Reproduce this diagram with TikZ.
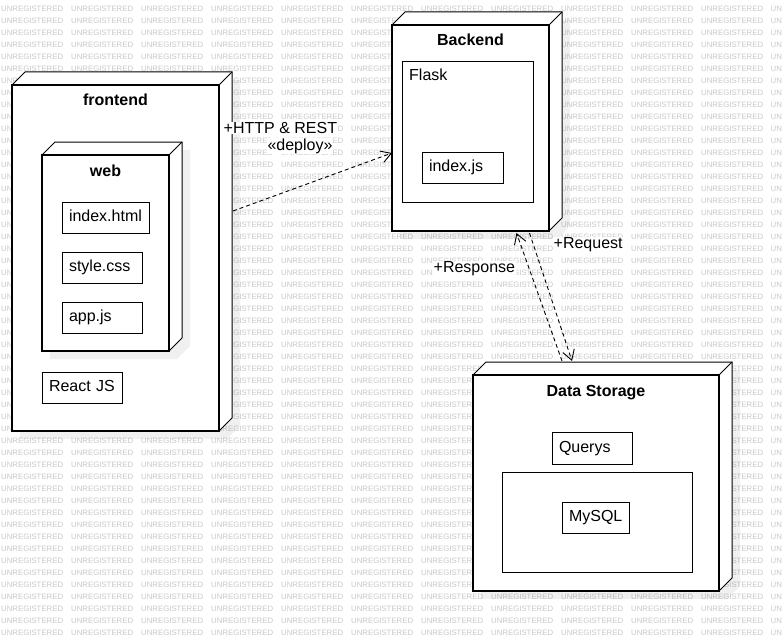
\documentclass[tikz,border=0pt]{standalone}
\usepackage{fontspec}
\setmainfont{Liberation Sans}
\usetikzlibrary{arrows.meta}

\tikzset{
  device/.style={draw, line width=1.8pt, fill=white, anchor=north west, inner sep=0pt, outer sep=0pt},
  devicetitle/.style={font=\fontsize{16}{19}\selectfont\bfseries, anchor=base, inner sep=0pt},
  artifact/.style={draw, line width=1pt, fill=white, anchor=north west, minimum height=31pt,
    inner xsep=7pt, inner ysep=0pt, outer sep=0pt, text height=12pt, text depth=3.5pt, align=left},
  container/.style={draw, line width=1pt, fill=white, anchor=north west, inner sep=0pt, outer sep=0pt},
  link/.style={line width=0.9pt, dash pattern=on 4pt off 3pt, -{Straight Barb[length=10pt,width=12pt]}},
  linklabel/.style={fill=white, inner sep=0.5pt},
  stamp/.style={text=black!22, font=\fontsize{7.8}{8}\selectfont, anchor=west, inner sep=0pt}
}

\begin{document}
\begin{tikzpicture}[x=1pt, y=-1pt, font=\fontsize{16}{19}\selectfont]
% Define the device box: name, x, y, width, height, title
\def\devicebox#1#2#3#4#5#6{%
  \fill[black, fill opacity=0.06] (#2+8,#3+8) -- ++(13,-13) -- ++(#4,0) -- ++(0,#5) -- ++(-13,13) -- ++(-#4,0) -- cycle;
  \node[device, minimum width=#4pt, minimum height=#5pt] (#1) at (#2,#3) {};
  \draw[line width=1pt, fill=white] (#1.north west) -- ++(13,-13) -- ++(#4,0) -- ++(0,#5) -- (#1.south east) -- (#1.north east) -- cycle;
  \draw[line width=1pt] (#1.north east) -- ++(13,-13);
  \draw[line width=1.8pt] (#1.north west) rectangle (#1.south east);
  \node[devicetitle] (#1-title) at ([yshift=-21pt]#1.north) {#6};
}

\useasboundingbox (0,0) rectangle (782,642);

% Draw the watermark
\foreach \r in {0,...,52} {
  \foreach \c in {0,...,10} {
    \node[stamp] (wm-\r-\c) at (1+70*\c, 8.5+12*\r) {UNREGISTERED};
  }
  \node[stamp] (wm-\r-11) at (770.5, 8.5+12*\r) {UN};
}

% Draw the frontend
\devicebox{frontend}{12}{85}{207}{346}{frontend}
\devicebox{web}{42}{155}{127}{196}{web}
\node[artifact, text width=73pt] (indexhtml) at (62,202) {index.html};
\node[artifact, text width=66pt] (stylecss) at (62,252) {style.css};
\node[artifact, text width=66pt] (appjs) at (62,302) {app.js};
\node[artifact, text width=66pt] (reactjs) at (42,372) {React JS};

% Draw the backend
\devicebox{backend}{392}{25}{157}{206}{Backend}
\node[container, minimum width=131pt, minimum height=140pt] (flask) at (402,62) {};
\node[anchor=base west, inner sep=0pt] (flask-title) at ([xshift=7pt, yshift=-19pt]flask.north west) {Flask};
\node[artifact, text width=67pt] (indexjs) at (422,152) {index.js};

% Draw the data storage
\devicebox{storage}{473}{375}{246}{216}{Data Storage}
\node[artifact, text width=66pt, minimum height=32pt] (querys) at (552,432) {Querys};
\node[container, minimum width=190pt, minimum height=100pt] (mysqlbox) at (502,472) {};
\node[artifact, text width=53pt] (mysql) at (562,502) {MySQL};

% Draw the connectors
\draw[link] ([shift={(14,-47)}]frontend.east) -- ([shift={(0,25)}]backend.west);
\draw[link] ([shift={(59,2)}]backend.south) -- ([shift={(-24,-14)}]storage.north);
\draw[link] ([shift={(-34,-14)}]storage.north) -- ([shift={(46,2)}]backend.south);

% Draw the labels
\node[linklabel, anchor=west] (http) at (223,128) {+HTTP \& REST};
\node[linklabel] (deploy) at (300,146) {«deploy»};
\node[linklabel, anchor=west] (request) at (553,245) {+Request};
\node[linklabel, anchor=west] (response) at (433,269) {+Response};
\end{tikzpicture}
\end{document}
